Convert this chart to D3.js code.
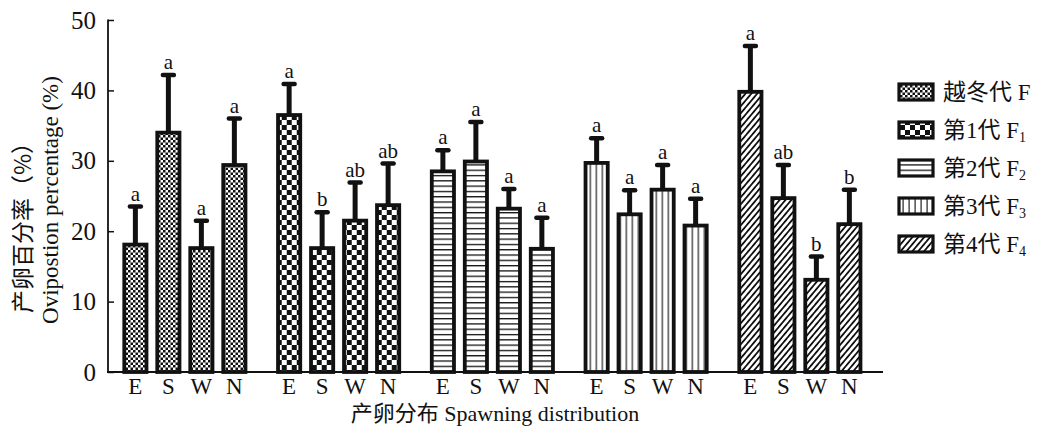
<!DOCTYPE html>
<html><head><meta charset="utf-8">
<script src="https://cdn.jsdelivr.net/npm/d3@7"></script>
<style>
body{margin:0;background:#fff;}
text{font-family:"Liberation Serif","Times New Roman","Noto Sans CJK SC",serif;fill:#111;}
</style></head>
<body><svg id="c" width="1043" height="430"></svg>
<script>
const groups = ["越冬代", "第1代", "第2代", "第3代", "第4代"];
const directions = ["E", "S", "W", "N"];
const means = [
  [18.1, 34.0, 17.6, 29.4],
  [36.5, 17.6, 21.5, 23.7],
  [28.5, 29.9, 23.2, 17.5],
  [29.7, 22.4, 25.9, 20.8],
  [39.8, 24.7, 13.1, 21.0]
];
const errors = [
  [5.4, 8.2, 3.9, 6.6],
  [4.4, 5.1, 5.4, 5.9],
  [3.0, 5.6, 2.8, 4.4],
  [3.5, 3.4, 3.5, 3.8],
  [6.5, 4.7, 3.3, 4.9]
];
const letters = [
  ["a", "a", "a", "a"],
  ["a", "b", "ab", "ab"],
  ["a", "a", "a", "a"],
  ["a", "a", "a", "a"],
  ["a", "ab", "b", "b"]
];
const legendNames = ["越冬代 F", "第1代 F", "第2代 F", "第3代 F", "第4代 F"];
const legendSubs = ["", "1", "2", "3", "4"];
const yTicks = [0, 10, 20, 30, 40, 50];
const yTitleCN = "产卵百分率（%）";
const yTitleEN = "Ovipostion percentage (%)";
const xTitle = "产卵分布 Spawning distribution";

const svg = d3.select("#c");
const defs = svg.append("defs");
const patIds = ["p0","p1","p2","p3","p4"];

{
  const p = defs.append("pattern").attr("id","p0").attr("patternUnits","userSpaceOnUse").attr("width",5).attr("height",5);
  p.append("rect").attr("width",5).attr("height",5).attr("fill","#fff");
  p.append("rect").attr("width",2.5).attr("height",2.5).attr("fill","#111");
  p.append("rect").attr("x",2.5).attr("y",2.5).attr("width",2.5).attr("height",2.5).attr("fill","#111");
}
{
  const p = defs.append("pattern").attr("id","p1").attr("patternUnits","userSpaceOnUse").attr("width",10).attr("height",10);
  p.append("rect").attr("width",10).attr("height",10).attr("fill","#111");
  p.append("rect").attr("width",5).attr("height",5).attr("fill","#fff");
  p.append("rect").attr("x",5).attr("y",5).attr("width",5).attr("height",5).attr("fill","#fff");
}
{
  const p = defs.append("pattern").attr("id","p2").attr("patternUnits","userSpaceOnUse").attr("width",6).attr("height",5.3);
  p.append("rect").attr("width",6).attr("height",5.3).attr("fill","#fff");
  p.append("rect").attr("y",0).attr("width",6).attr("height",1.3).attr("fill","#111");
}
{
  const p = defs.append("pattern").attr("id","p3").attr("patternUnits","userSpaceOnUse").attr("width",6).attr("height",6);
  p.append("rect").attr("width",6).attr("height",6).attr("fill","#fff");
  p.append("rect").attr("x",2.5).attr("width",1.2).attr("height",6).attr("fill","#222");
}
{
  const p = defs.append("pattern").attr("id","p4").attr("patternUnits","userSpaceOnUse").attr("width",4.5).attr("height",4.5)
    .attr("patternTransform","rotate(40)");
  p.append("rect").attr("width",4.5).attr("height",4.5).attr("fill","#fff");
  p.append("rect").attr("width",1.8).attr("height",4.5).attr("fill","#111");
}

const y = d3.scaleLinear().domain([0, 50]).range([372, 20]);
const x0 = d3.scaleBand().domain(groups).range([108, 876.75]).padding(0);
const x1 = d3.scaleBand().domain(directions).range([0, x0.bandwidth()]).paddingInner(0.212).paddingOuter(0.436);

const sw = 3.8;
groups.forEach((g, gi) => {
  const gg = svg.append("g").attr("transform", `translate(${x0(g)},0)`);
  directions.forEach((d, di) => {
    const v = means[gi][di], e = errors[gi][di];
    const bx = x1(d), bw = x1.bandwidth(), cx = bx + bw / 2;
    gg.append("line").attr("x1", cx).attr("x2", cx).attr("y1", y(v)).attr("y2", y(v + e))
      .attr("stroke", "#111").attr("stroke-width", 5);
    gg.append("line").attr("x1", cx - 5.5).attr("x2", cx + 5.5).attr("y1", y(v + e)).attr("y2", y(v + e))
      .attr("stroke", "#111").attr("stroke-width", 4.5).attr("stroke-linecap", "round");
    gg.append("rect").attr("x", bx + sw / 2).attr("y", y(v)).attr("width", bw - sw).attr("height", y(0) - y(v))
      .attr("fill", `url(#${patIds[gi]})`).attr("stroke", "#111").attr("stroke-width", sw);
    gg.append("text").attr("x", cx).attr("y", y(v + e) - 6).attr("text-anchor", "middle")
      .attr("font-size", 21).text(letters[gi][di]);
    gg.append("text").attr("x", cx).attr("y", 394).attr("text-anchor", "middle")
      .attr("font-size", 23).text(d);
  });
});

const yAxis = d3.axisLeft(y).tickValues(yTicks).tickSize(-6).tickPadding(12);
const ya = svg.append("g").attr("transform", "translate(108,0)").call(yAxis);
ya.select(".domain").remove();
ya.selectAll(".tick line").attr("stroke", "#111").attr("stroke-width", 1.5);
ya.selectAll(".tick text").attr("font-size", 25).attr("fill", "#111")
  .style("font-family", "'Liberation Serif', serif");
svg.append("line").attr("x1", 108).attr("x2", 108).attr("y1", 19.5).attr("y2", 372).attr("stroke", "#111").attr("stroke-width", 1.8);
svg.append("line").attr("x1", 107).attr("x2", 883).attr("y1", 372).attr("y2", 372).attr("stroke", "#111").attr("stroke-width", 1.8);

svg.append("text").attr("transform", "translate(31,222) rotate(-90)").attr("text-anchor", "middle")
  .attr("font-size", 23).style("font-family","'Noto Sans CJK SC', sans-serif").text(yTitleCN);
svg.append("text").attr("transform", "translate(58,200) rotate(-90)").attr("text-anchor", "middle")
  .attr("font-size", 23).text(yTitleEN);
svg.append("text").attr("x", 495).attr("y", 421).attr("text-anchor", "middle")
  .attr("font-size", 22).text(xTitle);

const lg = svg.append("g");
legendNames.forEach((n, i) => {
  const cy = 92 + i * 38;
  lg.append("rect").attr("x", 899).attr("y", cy - 8).attr("width", 34).attr("height", 16)
    .attr("fill", `url(#${patIds[i]})`).attr("stroke", "#111").attr("stroke-width", 3.2);
  const t = lg.append("text").attr("x", 943).attr("y", cy + 8).attr("font-size", 23);
  t.append("tspan").text(n);
  if (legendSubs[i]) t.append("tspan").attr("font-size", 14).attr("dy", 4).text(legendSubs[i]);
});
</script></body></html>
